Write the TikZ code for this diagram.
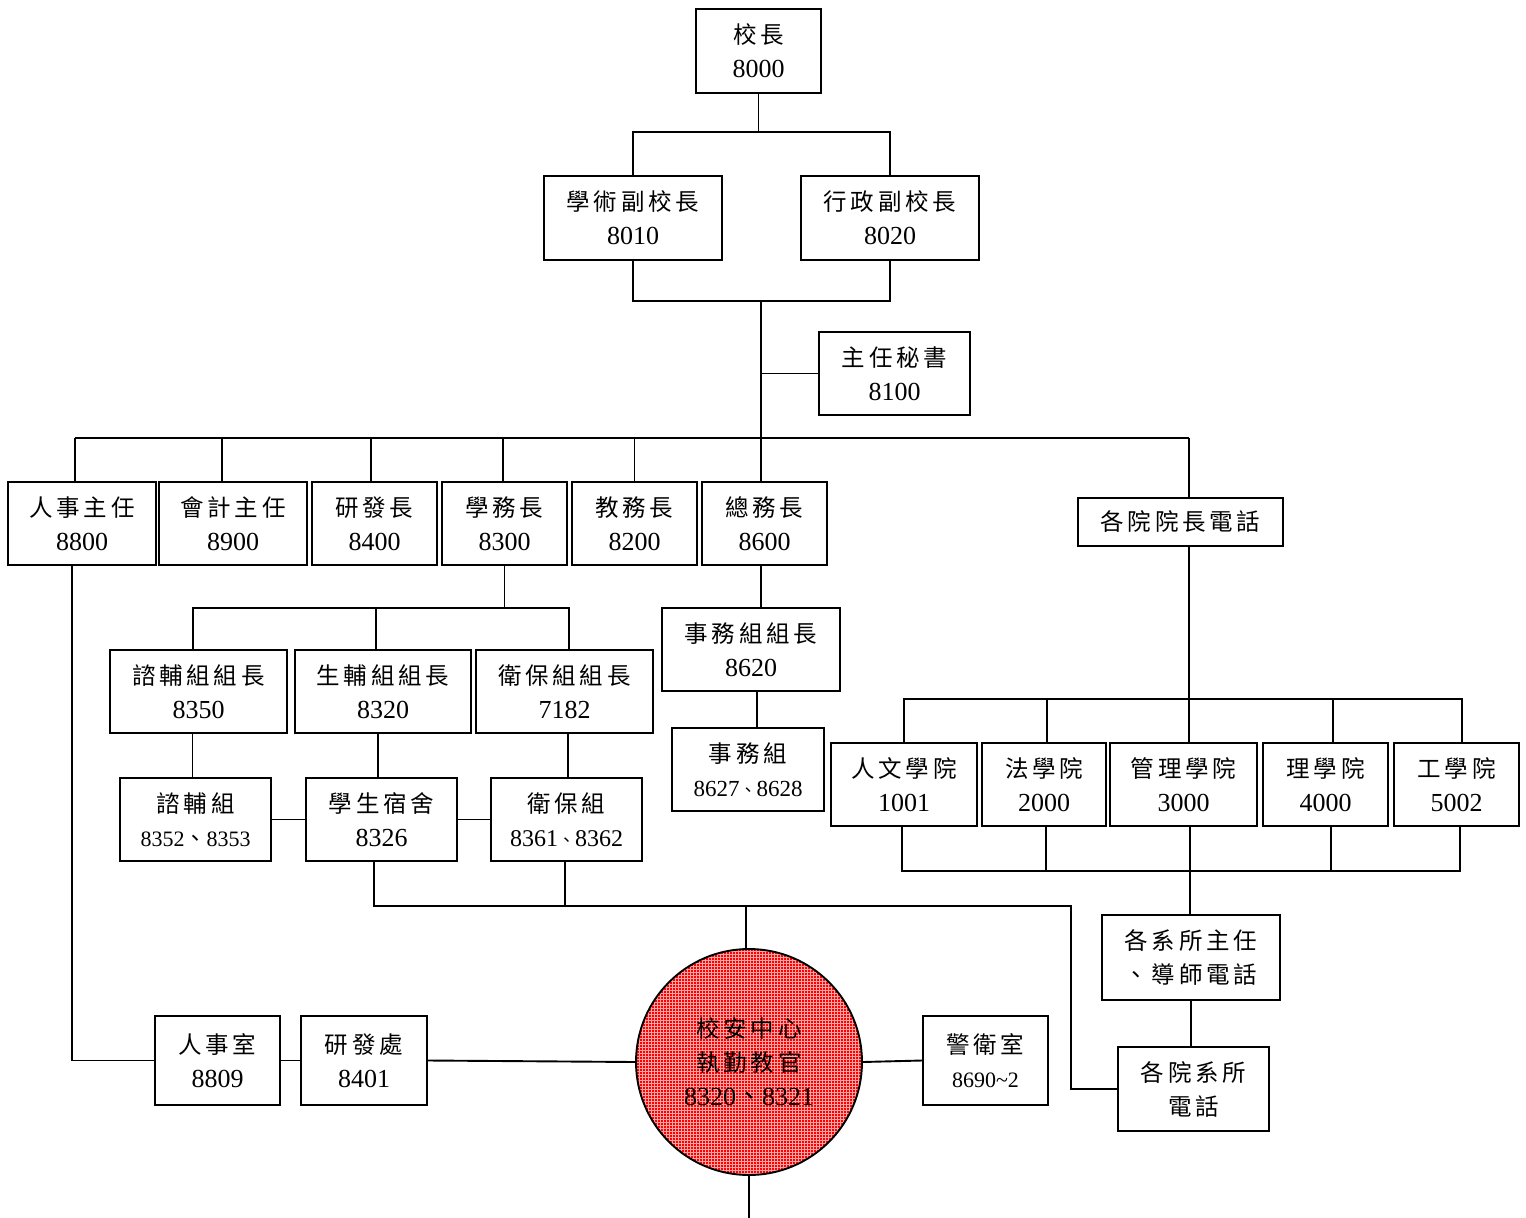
\documentclass[tikz,border=0pt]{standalone}
\usepackage{fontspec}
\setmainfont{Liberation Serif}
\newfontfamily\cjf[LetterSpace=16]{Noto Sans CJK TC}
\newcommand\cj{\cjf\fontsize{23.5}{34}\selectfont}
\newfontfamily\cjn{Noto Sans CJK TC}
\usetikzlibrary{patterns}
\begin{document}
\begin{tikzpicture}[x=1pt,y=-1pt,
  bx/.style={draw,line width=1.9pt,inner sep=0pt,align=center,font=\fontsize{26}{34}\selectfont},
  ln/.style={line width=1.9pt}]
\fill[white] (0,0) rectangle (1526,1218);
\useasboundingbox (0,0) rectangle (1526,1218);
% nodes
\node[bx,minimum width=125,minimum height=84] (xz) at (758.5,51) {{\cj 校長}\\8000};
\node[bx,minimum width=178,minimum height=84] (ac) at (633,218) {{\cj 學術副校長}\\8010};
\node[bx,minimum width=178,minimum height=84] (ad) at (890,218) {{\cj 行政副校長}\\8020};
\node[bx,minimum width=151,minimum height=83] (ms) at (894.5,373.5) {{\cj 主任秘書}\\8100};
\node[bx,minimum width=148,minimum height=83] (r1) at (82,523.5) {{\cj 人事主任}\\8800};
\node[bx,minimum width=148,minimum height=83] (r2) at (233,523.5) {{\cj 會計主任}\\8900};
\node[bx,minimum width=125,minimum height=83] (r3) at (374.5,523.5) {{\cj 研發長}\\8400};
\node[bx,minimum width=125,minimum height=83] (r4) at (504.5,523.5) {{\cj 學務長}\\8300};
\node[bx,minimum width=125,minimum height=83] (r5) at (634.5,523.5) {{\cj 教務長}\\8200};
\node[bx,minimum width=125,minimum height=83] (r6) at (764.5,523.5) {{\cj 總務長}\\8600};
\node[bx,minimum width=205,minimum height=48] (yz) at (1180.5,522) {{\cj 各院院長電話}};
\node[bx,minimum width=177,minimum height=83] (c1) at (198.5,691.5) {{\cj 諮輔組組長}\\8350};
\node[bx,minimum width=176,minimum height=83] (c2) at (383,691.5) {{\cj 生輔組組長}\\8320};
\node[bx,minimum width=177,minimum height=83] (c3) at (564.5,691.5) {{\cj 衛保組組長}\\7182};
\node[bx,minimum width=151,minimum height=83] (d1) at (195.5,819.5) {{\cj 諮輔組}\\{\fontsize{22}{34}\selectfont 8352{\cjn 、}8353}};
\node[bx,minimum width=151,minimum height=83] (d2) at (381.5,819.5) {{\cj 學生宿舍}\\8326};
\node[bx,minimum width=151,minimum height=83] (d3) at (566.5,819.5) {{\cj 衛保組}\\{\fontsize{24}{34}\selectfont 8361{\cjn\fontsize{17}{34}\selectfont 、}8362}};
\node[bx,minimum width=178,minimum height=83] (sw) at (751,649.5) {{\cj 事務組組長}\\8620};
\node[bx,minimum width=152,minimum height=83] (sz) at (748,769.5) {{\cj 事務組}\\{\fontsize{23}{34}\selectfont 8627{\cjn\fontsize{17}{34}\selectfont 、}8628}};
\node[bx,minimum width=125,minimum height=89] (rs) at (217.5,1060.5) {{\cj 人事室}\\8809};
\node[bx,minimum width=126,minimum height=89] (yf) at (364,1060.5) {{\cj 研發處}\\8401};
\node[bx,minimum width=125,minimum height=89] (jw) at (985.5,1060.5) {{\cj 警衛室}\\{\fontsize{22}{34}\selectfont 8690\textasciitilde2}};
\node[bx,minimum width=146,minimum height=83] (k1) at (904,784.5) {{\cj 人文學院}\\1001};
\node[bx,minimum width=124,minimum height=83] (k2) at (1044,784.5) {{\cj 法學院}\\2000};
\node[bx,minimum width=147,minimum height=83] (k3) at (1183.5,784.5) {{\cj 管理學院}\\3000};
\node[bx,minimum width=125,minimum height=83] (k4) at (1325.5,784.5) {{\cj 理學院}\\4000};
\node[bx,minimum width=125,minimum height=83] (k5) at (1456.5,784.5) {{\cj 工學院}\\5002};
\node[bx,minimum width=178,minimum height=85] (zr) at (1191,957.5) {{\cj 各系所主任}\\{\cj 、導師電話}};
\node[bx,minimum width=151,minimum height=84] (xs) at (1193.5,1089) {{\cj 各院系所}\\{\cj 電話}};
% circle
\fill[red] (749,1062) circle (113);
\fill[pattern=grid,pattern color=red!35!white] (749,1062) circle (113);
\node[circle,draw,line width=1.9pt,minimum size=226,inner sep=0pt,align=center,font=\fontsize{26}{34}\selectfont] (cir) at (749,1062) {{\cj 校安中心}\\{\cj 執勤教官}\\8320{\cjn 、}8321};
% coordinates
\coordinate (t1) at (761,132);
\coordinate (t2) at (761,301);
\coordinate (t3) at (761,438);
\coordinate (bL) at (75,438);
\coordinate (bR) at (1189,438);
\coordinate (u1) at (505,608);
\coordinate (w1) at (374,906);
\coordinate (w2) at (1071,906);
\coordinate (v1) at (1189,699);
\coordinate (v2) at (1190,871);
\coordinate (bot) at (749,1218);
% connectors
\draw[ln] (xz.south) -- (xz.south |- t1);
\draw[ln] (ac.north) |- (t1) -| (ad.north);
\draw[ln] (ac.south) |- (t2) -| (ad.south);
\draw[ln] (t2) -- (t3);
\draw[ln] (ms.west) -- (ms.west -| t2);
\draw[ln] (bL) -- (bR);
\draw[ln] (bL) -- (bL |- r1.north);
\draw[ln] ([xshift=-11pt]r2.north) -- ([xshift=-11pt]r2.north |- bL);
\draw[ln] ([xshift=-3.5pt]r3.north) -- ([xshift=-3.5pt]r3.north |- bL);
\draw[ln] ([xshift=-1.5pt]r4.north) -- ([xshift=-1.5pt]r4.north |- bL);
\draw[ln] (r5.north) -- (r5.north |- bL);
\draw[ln] ([xshift=-3.5pt]r6.north) -- ([xshift=-3.5pt]r6.north |- bL);
\draw[ln] (bR) -- (bR |- yz.north);
\draw[ln] (r4.south) -- (r4.south |- u1);
\draw[ln] ([xshift=-5.5pt]c1.north) |- (u1) -| ([xshift=4.5pt]c3.north);
\draw[ln] ([xshift=-7pt]c2.north) -- ([xshift=-7pt]c2.north |- u1);
\draw[ln] ([xshift=-6pt]c1.south) -- ([xshift=-6pt]c1.south |- d1.north);
\draw[ln] ([xshift=-5pt]c2.south) -- ([xshift=-5pt]c2.south |- d2.north);
\draw[ln] ([xshift=3.5pt]c3.south) -- ([xshift=3.5pt]c3.south |- d3.north);
\draw[ln] (d1.east) -- (d2.west);
\draw[ln] (d2.east) -- (d3.west);
\draw[ln] ([xshift=-7.5pt]d2.south) -- (w1) -- (w2) |- (xs.west);
\draw[ln] ([xshift=-1.5pt]d3.south) -- ([xshift=-1.5pt]d3.south |- w1);
\draw[ln] ([xshift=-3pt]cir.north) -- ([xshift=-3pt]cir.north |- w1);
\draw[ln] ([xshift=-3.5pt]r6.south) -- ([xshift=-3.5pt]r6.south |- sw.north);
\draw[ln] ([xshift=6pt]sw.south) -- ([xshift=6pt]sw.south |- sz.north);
\draw[ln] ([xshift=-10pt]r1.south) |- (rs.west);
\draw[ln] (rs.east) -- (yf.west);
\draw[ln] (yf.east) -- (cir.west);
\draw[ln] (cir.east) -- (jw.west);
\draw[ln] (cir.south) -- (bot);
\draw[ln] ([xshift=8.5pt]yz.south) -- (v1);
\draw[ln] (k1.north) |- (v1) -| ([xshift=5.5pt]k5.north);
\draw[ln] ([xshift=3pt]k2.north) -- ([xshift=3pt]k2.north |- v1);
\draw[ln] ([xshift=5.5pt]k3.north) -- ([xshift=5.5pt]k3.north |- v1);
\draw[ln] ([xshift=7.5pt]k4.north) -- ([xshift=7.5pt]k4.north |- v1);
\draw[ln] ([xshift=-2pt]k1.south) |- (v2) -| ([xshift=3.5pt]k5.south);
\draw[ln] ([xshift=2pt]k2.south) -- ([xshift=2pt]k2.south |- v2);
\draw[ln] ([xshift=6.5pt]k3.south) -- ([xshift=6.5pt]k3.south |- v2);
\draw[ln] ([xshift=5.5pt]k4.south) -- ([xshift=5.5pt]k4.south |- v2);
\draw[ln] (v2) -- (v2 |- zr.north);
\draw[ln] (zr.south) -- (zr.south |- xs.north);
\end{tikzpicture}
\end{document}
